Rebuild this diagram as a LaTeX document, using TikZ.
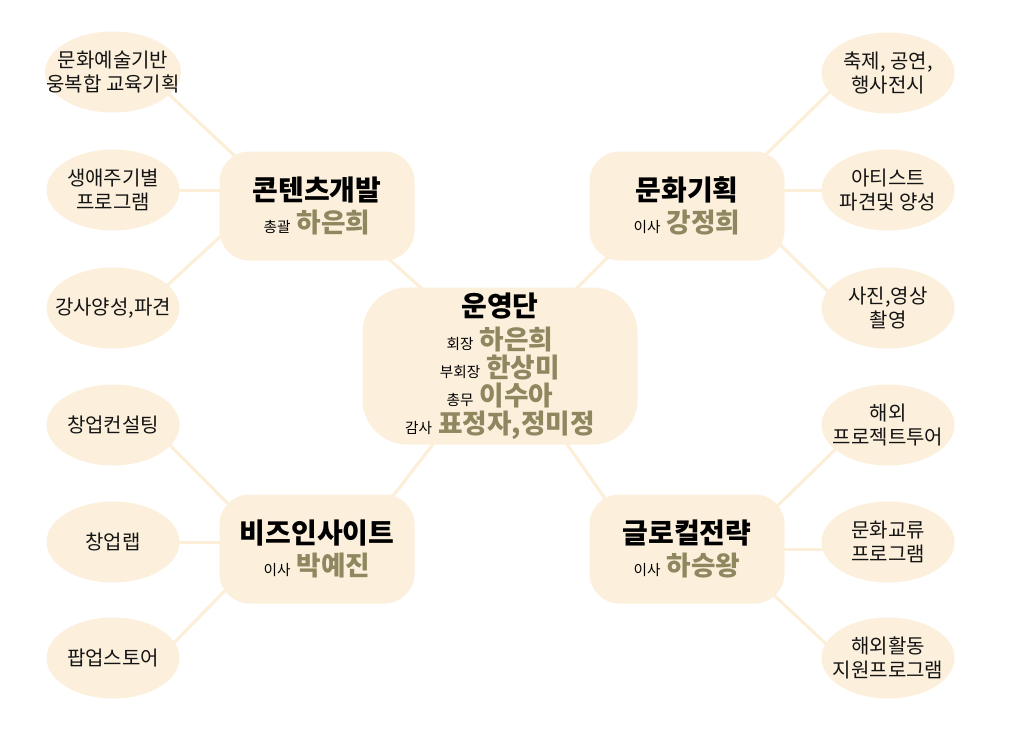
\documentclass[tikz,border=0pt]{standalone}
\usepackage{fontspec}
\setmainfont{Noto Sans CJK KR}
\usetikzlibrary{shapes.geometric}
\pgfdeclarelayer{paper}
\pgfdeclarelayer{links}
\pgfsetlayers{paper,links,main}
\definecolor{fillc}{RGB}{252,240,220}
\definecolor{linec}{RGB}{252,238,215}
\definecolor{namec}{RGB}{142,135,95}
\definecolor{txtc}{RGB}{20,20,20}
\newcommand{\ttl}[1]{{\fontsize{21pt}{22pt}\selectfont\bfseries #1}}
\newcommand{\rl}[1]{{\fontsize{11pt}{21pt}\selectfont #1}}
\newcommand{\nm}[1]{{\fontsize{20pt}{21pt}\selectfont\bfseries\color{namec}#1}}
\tikzset{
  leaf/.style={ellipse, fill=fillc, draw=none, minimum width=99.75pt, minimum height=60.75pt,
    inner xsep=-14pt, inner ysep=-8pt, align=center, text=txtc, font=\fontsize{15pt}{18pt}\selectfont},
  group/.style={rectangle, rounded corners=22.5pt, fill=fillc, draw=none, minimum width=146.25pt,
    minimum height=81.75pt, inner sep=0pt, align=center, text=black, font=\fontsize{20pt}{21pt}\selectfont},
  hub/.style={group, rounded corners=33.75pt, minimum width=206.25pt, minimum height=117.75pt},
  link/.style={draw=linec, line width=2.25pt}
}
\begin{document}
\begin{tikzpicture}[x=0.75pt,y=-0.75pt]
\begin{pgfonlayer}{paper}
\fill[white] (0,0) rectangle (1023,732);
\end{pgfonlayer}
\useasboundingbox (0,0) rectangle (1023,732);
% hub
\node[hub] (c) at (500,366) {\ttl{운영단}\\[3.5pt]\rl{회장} \nm{하은희}\\\rl{부회장} \nm{한상미}\\\rl{총무} \nm{이수아}\\\rl{감사} \nm{표정자,정미정}};
% groups
\node[group] (b1) at (317,206) {\ttl{콘텐츠개발}\\[3.5pt]\rl{총괄} \nm{하은희}};
\node[group] (b2) at (687,206) {\ttl{문화기획}\\[3.5pt]\rl{이사} \nm{강정희}};
\node[group] (b3) at (317,549) {\ttl{비즈인사이트}\\[3.5pt]\rl{이사} \nm{박예진}};
\node[group] (b4) at (687,549) {\ttl{글로컬전략}\\[3.5pt]\rl{이사} \nm{하승왕}};
% left leaves
\node[leaf] (l1) at (113,72) {문화예술기반\\웅복합 교육기획};
\node[leaf] (l2) at (113,190) {생애주기별\\프로그램};
\node[leaf] (l3) at (113,308) {강사양성,파견};
\node[leaf] (l4) at (113,425) {창업컨설팅};
\node[leaf] (l5) at (113,542) {창업랩};
\node[leaf] (l6) at (113,658) {팝업스토어};
% right leaves
\node[leaf] (r1) at (888,73) {축제, 공연,\\행사전시};
\node[leaf] (r2) at (888,190) {아티스트\\파견및 양성};
\node[leaf] (r3) at (888,308) {사진,영상\\촬영};
\node[leaf] (r4) at (888,425) {해외\\프로젝트투어};
\node[leaf] (r5) at (888,542) {문화교류\\프로그램};
\node[leaf] (r6) at (888,658) {해외활동\\지원프로그램};
\begin{pgfonlayer}{links}
\draw[link] ([shift={(47,14)}]l1.center) -- ([shift={(-67,-36)}]b1.center);
\draw[link] ([shift={(57,0)}]l2.center) -- ([shift={(-77,-16)}]b1.center);
\draw[link] ([shift={(47,-16)}]l3.center) -- ([shift={(-72,8)}]b1.center);
\draw[link] ([shift={(63,45)}]b1.center) -- ([shift={(-60,-61)}]c.center);
\draw[link] ([shift={(-46,7)}]r1.center) -- ([shift={(65,-38)}]b2.center);
\draw[link] ([shift={(-57,0)}]r2.center) -- ([shift={(77,-16)}]b2.center);
\draw[link] ([shift={(-48,-5)}]r3.center) -- ([shift={(78,24)}]b2.center);
\draw[link] ([shift={(-67,39)}]b2.center) -- ([shift={(60,-61)}]c.center);
\draw[link] ([shift={(63,-36)}]b3.center) -- ([shift={(-50,56)}]c.center);
\draw[link] ([shift={(49,12)}]l4.center) -- ([shift={(-72,-28)}]b3.center);
\draw[link] ([shift={(57,0)}]l5.center) -- ([shift={(-77,-7)}]b3.center);
\draw[link] ([shift={(52,-6)}]l6.center) -- ([shift={(-72,21)}]b3.center);
\draw[link] ([shift={(-67,-29)}]b4.center) -- ([shift={(55,61)}]c.center);
\draw[link] ([shift={(-43,15)}]r4.center) -- ([shift={(75,-28)}]b4.center);
\draw[link] ([shift={(-57,7)}]r5.center) -- ([shift={(77,0)}]b4.center);
\draw[link] ([shift={(-48,-1)}]r6.center) -- ([shift={(73,33)}]b4.center);
\end{pgfonlayer}
\end{tikzpicture}
\end{document}
